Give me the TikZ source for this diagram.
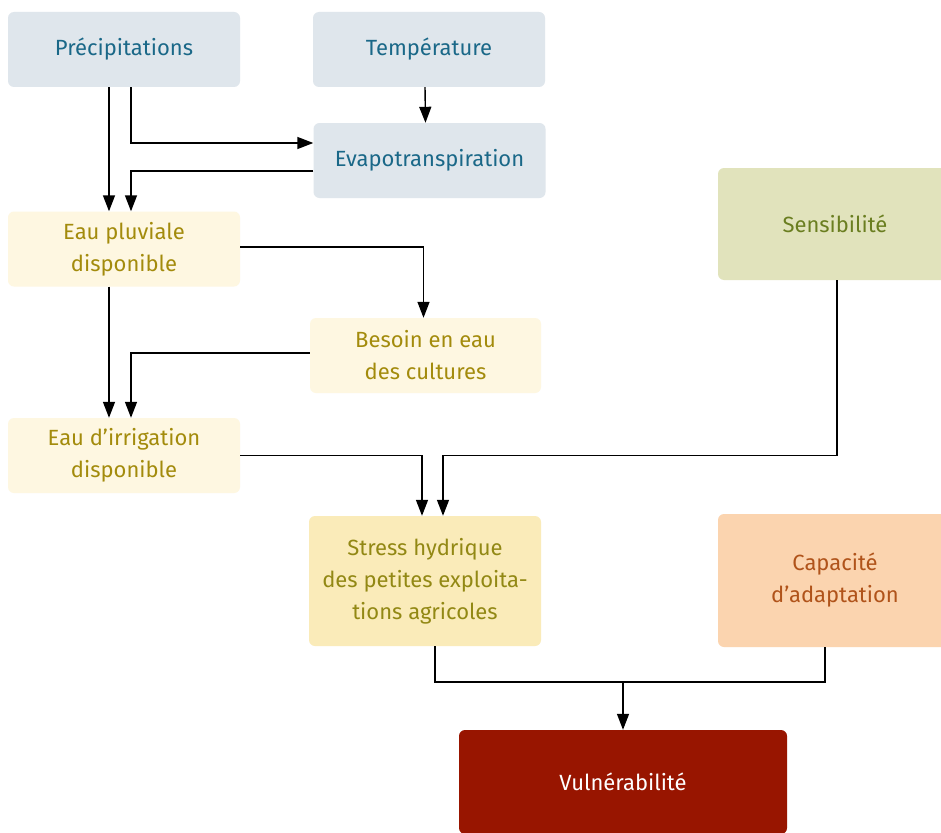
\documentclass[tikz,border=0pt]{standalone}
\usepackage{fontspec}
\setmainfont{Fira Sans}
\usetikzlibrary{arrows.meta}

\definecolor{blueFill}{HTML}{DFE6EC}
\definecolor{blueText}{HTML}{1A6888}
\definecolor{creamFill}{HTML}{FEF7E1}
\definecolor{goldText}{HTML}{A38B0C}
\definecolor{stressFill}{HTML}{FAEBB9}
\definecolor{stressText}{HTML}{928814}
\definecolor{sensFill}{HTML}{E1E3BC}
\definecolor{sensText}{HTML}{6A7E20}
\definecolor{capFill}{HTML}{FBD4AF}
\definecolor{capText}{HTML}{B0531A}
\definecolor{vulnFill}{HTML}{981500}

\tikzset{
  box/.style={rectangle, rounded corners=6pt, draw=none, align=center,
    font=\fontsize{22}{32}\selectfont, inner sep=0pt},
  bluebox/.style={box, fill=blueFill, text=blueText},
  creambox/.style={box, fill=creamFill, text=goldText},
  link/.style={line width=1.4pt, black},
  arr/.style={link, -{Triangle[length=16pt,width=12pt]}},
}

\begin{document}
\begin{tikzpicture}[x=1pt,y=-1pt]
\clip (0,0) rectangle (941,832);
\fill[white] (0,0) rectangle (941,832);

% boxes
\node[bluebox, minimum width=232pt, minimum height=75pt] (prec) at (124,49.5) {Précipitations};
\node[bluebox, minimum width=232pt, minimum height=75pt] (temp) at (429,49.5) {Température};
\node[bluebox, minimum width=232pt, minimum height=75pt] (evap) at (429.5,160.5) {Evapotranspiration};
\node[creambox, minimum width=232pt, minimum height=75pt] (pluv) at (124,249) {Eau pluviale\\disponible};
\node[creambox, minimum width=231pt, minimum height=75pt] (bes) at (425.5,355.5) {Besoin en eau\\des cultures};
\node[box, fill=sensFill, text=sensText, minimum width=234pt, minimum height=112pt] (sens) at (835,224) {Sensibilité};
\node[creambox, minimum width=232pt, minimum height=75pt] (irr) at (124,455.5) {Eau d’irrigation\\disponible};
\node[box, fill=stressFill, text=stressText, minimum width=232pt, minimum height=130pt] (stress) at (425,581) {Stress hydrique\\des petites exploita-\\tions agricoles};
\node[box, fill=capFill, text=capText, minimum width=234pt, minimum height=133pt] (cap) at (835,580.5) {Capacité\\d’adaptation};
\node[box, fill=vulnFill, text=white, minimum width=328pt, minimum height=104pt] (vuln) at (623,782) {Vulnérabilité};

% connectors
\draw[arr] ([xshift=-15pt]prec.south) -- ([xshift=-15pt]pluv.north);
\draw[arr] ([xshift=7pt]prec.south) |- ([yshift=17.5pt]evap.west);
\draw[arr] ([yshift=-10.5pt]evap.west) -| ([xshift=7pt]pluv.north);
\draw[arr] ([xshift=-4pt]temp.south) -- ([xshift=-4pt]evap.north);
\draw[arr] ([yshift=2pt]pluv.east) -| ([xshift=-2pt]bes.north);
\draw[arr] ([xshift=-15pt]pluv.south) -- ([xshift=-15pt]irr.north);
\draw[arr] ([yshift=2.5pt]bes.west) -| ([xshift=7pt]irr.north);
\draw[arr] (irr.east) -| ([xshift=-3pt]stress.north);
\coordinate (sbend) at ([xshift=2pt]sens.south |- irr.east);
\draw[arr] ([xshift=2pt]sens.south) -- (sbend) -| ([xshift=18pt]stress.north);
\coordinate (join) at ([yshift=48pt]vuln.north);
\draw[link] ([xshift=10pt]stress.south) |- (join);
\draw[link] ([xshift=-10pt]cap.south) |- (join);
\draw[arr] (join) -- (vuln.north);
\end{tikzpicture}
\end{document}
